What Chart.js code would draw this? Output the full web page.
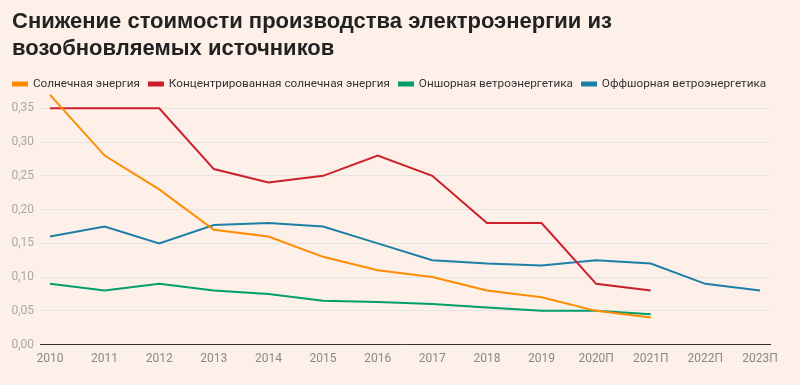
<!DOCTYPE html>
<html>
<head>
<meta charset="utf-8">
<script src="https://cdn.jsdelivr.net/npm/chart.js@4"></script>
<style>
  html, body { margin: 0; padding: 0; background: #fdf0e8; }
  #wrap { width: 800px; height: 385px; position: relative; }
  #title {
    position: absolute; left: 12px; top: 8px; margin: 0;
    font: bold 22px/26.8px "Liberation Sans", Arial, sans-serif; color: #222;
  }
</style>
</head>
<body>
<div id="wrap">
  <h1 id="title">Снижение стоимости производства электроэнергии из<br>возобновляемых источников</h1>
  <canvas id="chart"></canvas>
</div>
<script>
// years along the bottom (П = forecast)
const years = ['2010', '2011', '2012', '2013', '2014', '2015', '2016', '2017', '2018', '2019', '2020П', '2021П', '2022П', '2023П']

// cost per kWh, null where the series has no value
const solar = [0.37, 0.28, 0.23, 0.17, 0.16, 0.13, 0.11, 0.10, 0.08, 0.07, 0.05, 0.04, null, null]
const csp = [0.35, 0.35, 0.35, 0.26, 0.24, 0.25, 0.28, 0.25, 0.18, 0.18, 0.09, 0.08, null, null]
const onshore = [0.09, 0.08, 0.09, 0.08, 0.075, 0.065, 0.063, 0.06, 0.055, 0.05, 0.05, 0.045, null, null]
const offshore = [0.16, 0.175, 0.15, 0.177, 0.18, 0.175, 0.15, 0.125, 0.12, 0.117, 0.125, 0.12, 0.09, 0.08]

const toPoints = arr => arr.map((v, i) => ({ x: i, y: v })).filter(p => p.y !== null)

const line = (label, values, color) => ({
  label: label,
  data: toPoints(values),
  borderColor: color,
  backgroundColor: color,
  borderWidth: 2,
  pointRadius: 0,
  tension: 0,
  clip: false
})

const ctx = document.getElementById('chart').getContext('2d')
new Chart(ctx, {
  type: 'line',
  data: {
    datasets: [
      line('Солнечная энергия', solar, '#ff8c00'),
      line('Концентрированная солнечная энергия', csp, '#cc1f2b'),
      line('Оншорная ветроэнергетика', onshore, '#009e6a'),
      line('Оффшорная ветроэнергетика', offshore, '#1b7fa6')
    ]
  },
  options: {
    responsive: true,
    maintainAspectRatio: false,
    animation: false,
    layout: { padding: { left: 4, right: 4, top: 69, bottom: 12 } },
    plugins: {
      tooltip: { enabled: false },
      legend: {
        align: 'start',
        labels: {
          boxWidth: 14,
          boxHeight: 3,
          padding: 9,
          color: '#333',
          font: { family: 'Roboto', size: 11.75 }
        }
      }
    },
    scales: {
      x: {
        type: 'linear',
        min: -0.183,
        max: 13.183,
        afterBuildTicks: axis => { axis.ticks = years.map((_, i) => ({ value: i })) },
        ticks: {
          callback: v => years[v],
          color: '#888',
          padding: 7,
          maxRotation: 0,
          autoSkip: false,
          font: { family: 'Roboto', size: 12 }
        },
        grid: { display: false, drawTicks: false },
        border: { display: true, color: '#333', width: 1 }
      },
      y: {
        min: 0,
        max: 0.3627,
        afterFit: axis => { axis.width = 36 },
        ticks: {
          stepSize: 0.05,
          includeBounds: false,
          padding: 6,
          color: '#a8a8a8',
          font: { family: 'Roboto', size: 12 },
          callback: v => v.toFixed(2).replace('.', ',')
        },
        grid: { color: '#e6e4e2', drawTicks: false },
        border: { display: false }
      },
      // empty right-hand spacer so the plot ends where the reference does
      spacer: {
        type: 'linear',
        position: 'right',
        display: true,
        afterFit: axis => { axis.width = 26 },
        ticks: { display: false },
        grid: { display: false, drawTicks: false },
        border: { display: false }
      }
    }
  }
})
</script>
</body>
</html>
